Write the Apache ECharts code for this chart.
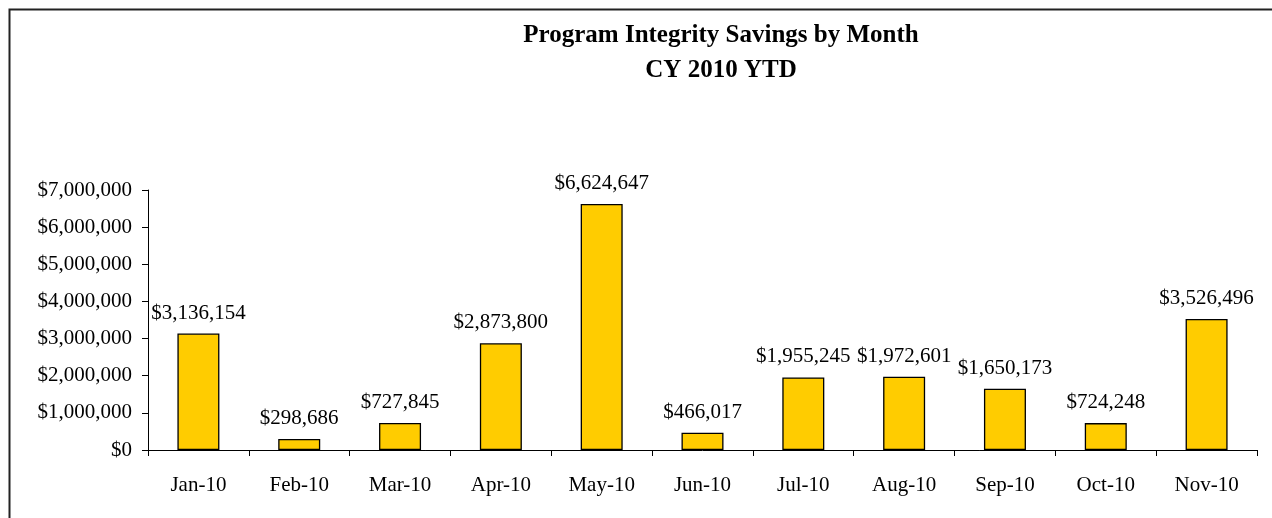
<!DOCTYPE html>
<html>
<head>
<meta charset="utf-8">
<script src="https://cdn.jsdelivr.net/npm/echarts@6/dist/echarts.min.js"></script>
<style>
    html, body { margin: 0; padding: 0; background: #fff; }
    #chart { width: 1272px; height: 518px; }
</style>
</head>
<body>
<div id="chart"></div>
<script>
    /* 图表数据 */
    var months = ['Jan-10', 'Feb-10', 'Mar-10', 'Apr-10', 'May-10', 'Jun-10',
        'Jul-10', 'Aug-10', 'Sep-10', 'Oct-10', 'Nov-10'];
    var savings = [3136154, 298686, 727845, 2873800, 6624647, 466017,
        1955245, 1972601, 1650173, 724248, 3526496];
    var titleLines = ['Program Integrity Savings by Month', 'CY 2010 YTD'];

    var font = '"Liberation Serif", "Times New Roman", serif';

    function money(v) {
        return '$' + Math.round(v).toString().replace(/\B(?=(\d{3})+(?!\d))/g, ',');
    }

    var chart = echarts.init(document.getElementById('chart'));
    var option = {
        animation: false,
        title: {
            text: titleLines.join('\n'),
            left: 716,
            top: 13,
            textAlign: 'center',
            textStyle: {
                fontFamily: font,
                fontSize: 25,
                fontWeight: 'bold',
                color: '#000',
                lineHeight: 35
            }
        },
        graphic: [{
            type: 'polyline',
            shape: { points: [[9.5, 518], [9.5, 9.5], [1272, 9.5]] },
            style: { stroke: '#222', lineWidth: 2, fill: null }
        }],
        grid: {
            left: 148,
            right: 15,
            top: 190,
            bottom: 68
        },
        xAxis: {
            type: 'category',
            data: months,
            axisLine: { lineStyle: { color: '#000', width: 1 } },
            axisTick: { show: true, length: 6, lineStyle: { color: '#000' } },
            axisLabel: {
                fontFamily: font,
                fontSize: 21,
                color: '#000',
                margin: 25
            }
        },
        yAxis: {
            type: 'value',
            min: 0,
            max: 7000000,
            interval: 1000000,
            splitLine: { show: false },
            axisLine: { show: true, lineStyle: { color: '#000', width: 1 } },
            axisTick: { show: true, length: 6, lineStyle: { color: '#000' } },
            axisLabel: {
                fontFamily: font,
                fontSize: 21,
                color: '#000',
                margin: 16,
                formatter: money
            }
        },
        series: [{
            type: 'bar',
            data: savings,
            barWidth: 42,
            itemStyle: {
                color: '#FFCC00',
                borderColor: '#000',
                borderWidth: 1.3
            },
            label: {
                show: true,
                position: 'top',
                distance: 10,
                fontFamily: font,
                fontSize: 21,
                color: '#000',
                formatter: function (p) { return money(p.value); }
            }
        }]
    };
    chart.setOption(option);

    window.addEventListener('resize', function () {
        chart.resize();
    });
</script>
</body>
</html>
